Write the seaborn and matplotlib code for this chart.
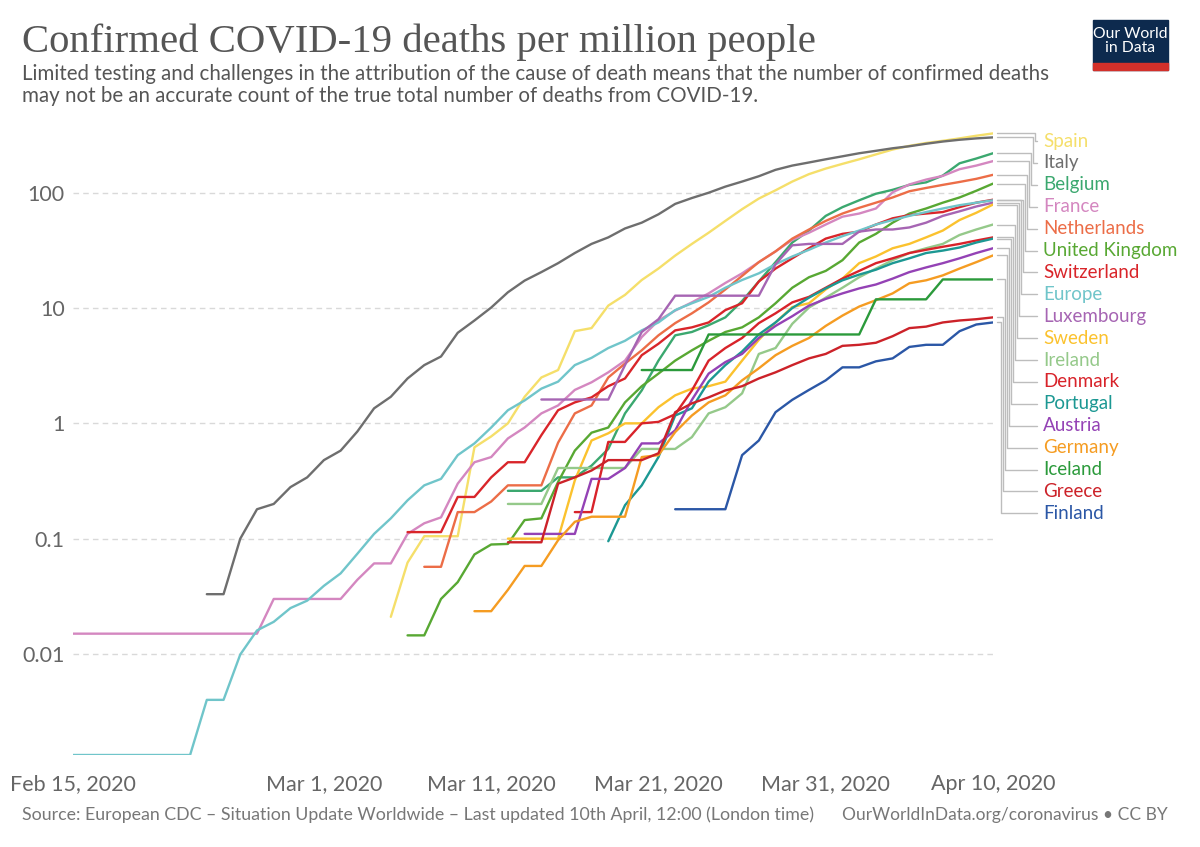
import matplotlib
matplotlib.use("Agg")
import matplotlib.pyplot as plt
import matplotlib.dates as mdates
from matplotlib.lines import Line2D
from matplotlib.patches import Rectangle
from matplotlib.transforms import IdentityTransform
import seaborn as sns
import pandas as pd

# ------------------------------------------------------------
# DATA (confirmed deaths per million, daily, every series ends on END_DATE)
# ------------------------------------------------------------
START_DATE = "2020-02-15"
END_DATE = "2020-04-10"

spain = [0.021, 0.062, 0.105, 0.105, 0.105, 0.62, 0.77, 1.0, 1.7, 2.5,
         2.9, 6.3, 6.7, 10.5, 13, 17.5, 22, 28.5, 36, 45,
         57, 72, 89, 105, 125, 145, 162, 178, 195, 215,
         237, 255, 270, 282, 296, 312, 327]
italy = [0.033, 0.033, 0.10, 0.18, 0.20, 0.28, 0.34, 0.48, 0.58, 0.85,
         1.35, 1.7, 2.45, 3.2, 3.8, 6.1, 7.8, 10.1, 13.7, 17.3,
         20.5, 24.5, 30, 36, 41, 49, 55, 65, 80, 90,
         100, 113, 125, 139, 158, 172, 183, 195, 207, 220,
         231, 243, 253, 266, 278, 288, 296, 302]
belgium = [0.26, 0.26, 0.26, 0.34, 0.34, 0.43, 0.6, 1.22, 1.93, 3.5,
           5.8, 6.2, 7.1, 8.3, 11.5, 17, 25, 37, 47, 63,
           75, 86, 98, 106, 117, 123, 141, 180, 198, 220]
france = [0.015] * 12 + [0.030] * 5 + [0.044, 0.061, 0.061,
          0.11, 0.136, 0.153, 0.30, 0.46, 0.51, 0.74, 0.92, 1.22, 1.43,
          1.95, 2.27, 2.77, 3.5, 5.6, 7.8, 9.5, 11.2, 13.4, 16.5,
          20, 25, 31, 39, 45, 53, 62, 66, 73, 101,
          118, 130, 140, 160, 172, 188]
netherlands = [0.057, 0.057, 0.17, 0.17, 0.21, 0.29, 0.29, 0.29, 0.68, 1.22,
               1.43, 2.5, 3.3, 4.3, 5.8, 7.4, 9, 11.2, 14.5, 19,
               25, 31, 40, 48, 57, 66, 74, 82, 91, 103,
               110, 117, 124, 132, 143]
united_kingdom = [0.0145, 0.0145, 0.03, 0.042, 0.073, 0.089, 0.09, 0.145, 0.15, 0.31,
                  0.58, 0.83, 0.92, 1.52, 2.1, 2.7, 3.5, 4.3, 5.2, 6.2,
                  6.8, 8.3, 11, 15, 18.5, 21, 26, 37, 44, 55,
                  66, 73, 82, 91, 104, 120]
switzerland = [0.114, 0.114, 0.114, 0.23, 0.23, 0.34, 0.46, 0.46, 0.79, 1.3,
               1.52, 1.68, 2.1, 2.45, 3.9, 4.9, 6.4, 6.8, 7.5, 9.6,
               11, 17, 22, 27, 33, 40, 44, 46, 53, 60,
               64, 66, 68, 75, 82, 87]
europe = [0.00133] * 8 + [0.004, 0.004,
          0.0099, 0.016, 0.019, 0.025, 0.029, 0.039, 0.05, 0.074, 0.11, 0.15,
          0.215, 0.29, 0.33, 0.53, 0.67, 0.92, 1.3, 1.58, 2.0, 2.3,
          3.2, 3.7, 4.5, 5.2, 6.4, 7.5, 9.6, 11, 12.5, 15,
          17.5, 20, 24, 28, 32, 37, 42, 47, 53, 58,
          63, 68, 73, 78, 82, 86]
luxembourg = [1.61, 1.61, 1.61, 1.61, 1.61, 3.2, 6.2, 8.0, 12.8, 12.8,
              12.8, 12.8, 12.8, 12.8, 24, 35, 36, 36, 36, 46,
              48, 48, 50, 55, 63, 69, 76, 82]
sweden = [0.1, 0.1, 0.1, 0.1, 0.32, 0.71, 0.82, 1.0, 1.0, 1.38,
          1.75, 2.0, 2.1, 2.3, 3.5, 5.3, 7.5, 10.2, 11, 14.5,
          18, 24.5, 28, 33, 36, 41, 47, 58, 67, 79]
ireland = [0.2, 0.2, 0.2, 0.41, 0.41, 0.41, 0.41, 0.41, 0.6, 0.6,
           0.6, 0.76, 1.22, 1.38, 1.82, 4.0, 4.5, 7.3, 10.1, 12.3,
           15, 18.5, 22, 26, 30, 33, 36, 43, 48, 53]
denmark = [0.17, 0.17, 0.69, 0.69, 1.0, 1.03, 1.2, 1.93, 3.5, 4.5,
           5.5, 7.4, 9, 11.2, 12.5, 15, 18, 21, 24.5, 27,
           30, 32, 34, 36, 38.5, 41]
portugal = [0.095, 0.195, 0.29, 0.51, 1.17, 1.35, 2.3, 3.2, 4.2, 5.9,
            7.5, 10, 12.3, 14.8, 17.4, 19.5, 21.5, 24.5, 27, 30,
            31.5, 33.5, 37, 40]
austria = [0.11, 0.11, 0.11, 0.11, 0.33, 0.33, 0.41, 0.67, 0.67, 0.87,
           1.6, 2.7, 3.4, 4.0, 5.5, 7, 8.5, 10.5, 12, 13.4,
           14.8, 16, 18, 20.5, 22.5, 24.5, 27, 30, 33]
germany = [0.0235, 0.0235, 0.036, 0.058, 0.058, 0.097, 0.14, 0.155, 0.155, 0.155,
           0.51, 0.53, 0.84, 1.17, 1.52, 1.75, 2.36, 3.0, 3.9, 4.7,
           5.5, 7.0, 8.6, 10.3, 11.7, 13.4, 16.4, 17.4, 19.2, 22,
           25, 28.6]
iceland = [2.9] * 4 + [5.9] * 10 + [11.9] * 4 + [17.7] * 4
greece = [0.093, 0.093, 0.093, 0.30, 0.34, 0.39, 0.48, 0.48, 0.48, 0.55,
          1.25, 1.49, 1.68, 1.93, 2.1, 2.45, 2.77, 3.2, 3.66, 4.0,
          4.7, 4.8, 5.0, 5.7, 6.7, 6.9, 7.5, 7.8, 8.0, 8.3]
finland = [0.18, 0.18, 0.18, 0.18, 0.53, 0.71, 1.25, 1.6, 1.95, 2.36,
           3.06, 3.06, 3.45, 3.66, 4.6, 4.8, 4.8, 6.3, 7.2, 7.5]

countries = ["Spain", "Italy", "Belgium", "France", "Netherlands", "United Kingdom",
             "Switzerland", "Europe", "Luxembourg", "Sweden", "Ireland", "Denmark",
             "Portugal", "Austria", "Germany", "Iceland", "Greece", "Finland"]
series = [spain, italy, belgium, france, netherlands, united_kingdom,
          switzerland, europe, luxembourg, sweden, ireland, denmark,
          portugal, austria, germany, iceland, greece, finland]
colors = ["#f5df6a", "#6e6e6e", "#3ba86f", "#d487c0", "#ec6d47", "#58a833",
          "#d9252a", "#70c5ca", "#a665b3", "#fbc22e", "#95c98a", "#d8232a",
          "#1c9893", "#9442b5", "#f59c22", "#2b9a3b", "#cc2229", "#2b57a6"]

xtick_dates = ["2020-02-15", "2020-03-01", "2020-03-11", "2020-03-21", "2020-03-31", "2020-04-10"]
xtick_labels = ["Feb 15, 2020", "Mar 1, 2020", "Mar 11, 2020", "Mar 21, 2020", "Mar 31, 2020", "Apr 10, 2020"]
ytick_values = [0.01, 0.1, 1, 10, 100]
ytick_labels = ["0.01", "0.1", "1", "10", "100"]

# long table for seaborn
frames = []
for name, vals in zip(countries, series):
    dates = pd.date_range(end=END_DATE, periods=len(vals), freq="D")
    frames.append(pd.DataFrame({"date": dates, "deaths_pm": vals, "country": name}))
df = pd.concat(frames, ignore_index=True)

# ------------------------------------------------------------
# PLOT
# ------------------------------------------------------------
sns.set_theme(style="white")
plt.rcParams['font.family'] = ['Lato', 'DejaVu Sans']

W, H = 1200, 847
fig = plt.figure(figsize=(W / 100, H / 100), dpi=100)
ax = fig.add_axes([73 / W, 92 / H, 920 / W, 625 / H])

sns.lineplot(data=df[::-1], x="date", y="deaths_pm", hue="country",
             hue_order=countries, palette=dict(zip(countries, colors)),
             estimator=None, errorbar=None, linewidth=1.7, legend=False, ax=ax)

ax.set_yscale("log")
ax.set_ylim(0.00133, 350)
ax.set_xlim(pd.Timestamp(START_DATE), pd.Timestamp(END_DATE))

ax.set_yticks(ytick_values)
ax.set_yticklabels(ytick_labels)
ax.yaxis.set_minor_locator(matplotlib.ticker.NullLocator())
ax.set_xticks(pd.to_datetime(xtick_dates))
ax.set_xticklabels(xtick_labels)
ax.tick_params(axis="y", length=0, pad=6, labelsize=15.5, labelcolor="#666666")
ax.tick_params(axis="x", length=6, width=1, color="#aaaaaa", pad=8,
               labelsize=15.5, labelcolor="#666666")
ax.set_xlabel("")
ax.set_ylabel("")
for s in ax.spines.values():
    s.set_visible(False)
ax.yaxis.grid(True, linestyle=(0, (4, 3)), color="#d9d9d9", linewidth=1)
ax.xaxis.grid(False)
ax.set_axisbelow(True)

# end-of-line labels with connectors (display coordinates)
fig.canvas.draw()
end_vals = [s[-1] for s in series]
order = sorted(range(len(countries)), key=lambda i: -end_vals[i])
x_end = mdates.date2num(pd.Timestamp(END_DATE))
for rank, i in enumerate(order):
    px, py = ax.transData.transform((x_end, end_vals[i]))
    label_y = H - (141 + rank * 21.9)
    bend_x = 1035 - rank * 2
    fig.add_artist(Line2D([px + 4, bend_x, bend_x, 1037],
                          [py, py, label_y, label_y],
                          transform=IdentityTransform(), color="#bdbdbd", linewidth=1))
    fig.text(1043 / W, label_y / H, countries[i], color=colors[i],
             fontsize=13.5, va="center", ha="left")

# title, subtitle, footer
fig.text(22 / W, 1 - 52 / H, "Confirmed COVID-19 deaths per million people",
         family="Liberation Serif", fontsize=29.3, color="#555555", va="baseline")
fig.text(22 / W, 1 - 80 / H,
         "Limited testing and challenges in the attribution of the cause of death means that the number of confirmed deaths",
         fontsize=14.8, color="#555555", va="baseline")
fig.text(22 / W, 1 - 102 / H,
         "may not be an accurate count of the true total number of deaths from COVID-19.",
         fontsize=14.8, color="#555555", va="baseline")
fig.text(22 / W, 1 - 820 / H,
         "Source: European CDC – Situation Update Worldwide – Last updated 10th April, 12:00 (London time)",
         fontsize=12.8, color="#777777", va="baseline")
fig.text(1168 / W, 1 - 820 / H, "OurWorldInData.org/coronavirus • CC BY",
         fontsize=12.5, color="#777777", va="baseline", ha="right")

# logo
fig.add_artist(Rectangle((1093 / W, 1 - 70 / H), 75 / W, 50 / H,
                         transform=fig.transFigure, color="#0d2a4e"))
fig.add_artist(Rectangle((1093 / W, 1 - 70 / H), 75 / W, 7 / H,
                         transform=fig.transFigure, color="#d3302a"))
fig.text(1130.5 / W, 1 - 41 / H, "Our World\nin Data", color="white",
         fontsize=11.3, ha="center", va="center", linespacing=1.05)

fig.savefig("out.png", dpi=100, facecolor="white")
